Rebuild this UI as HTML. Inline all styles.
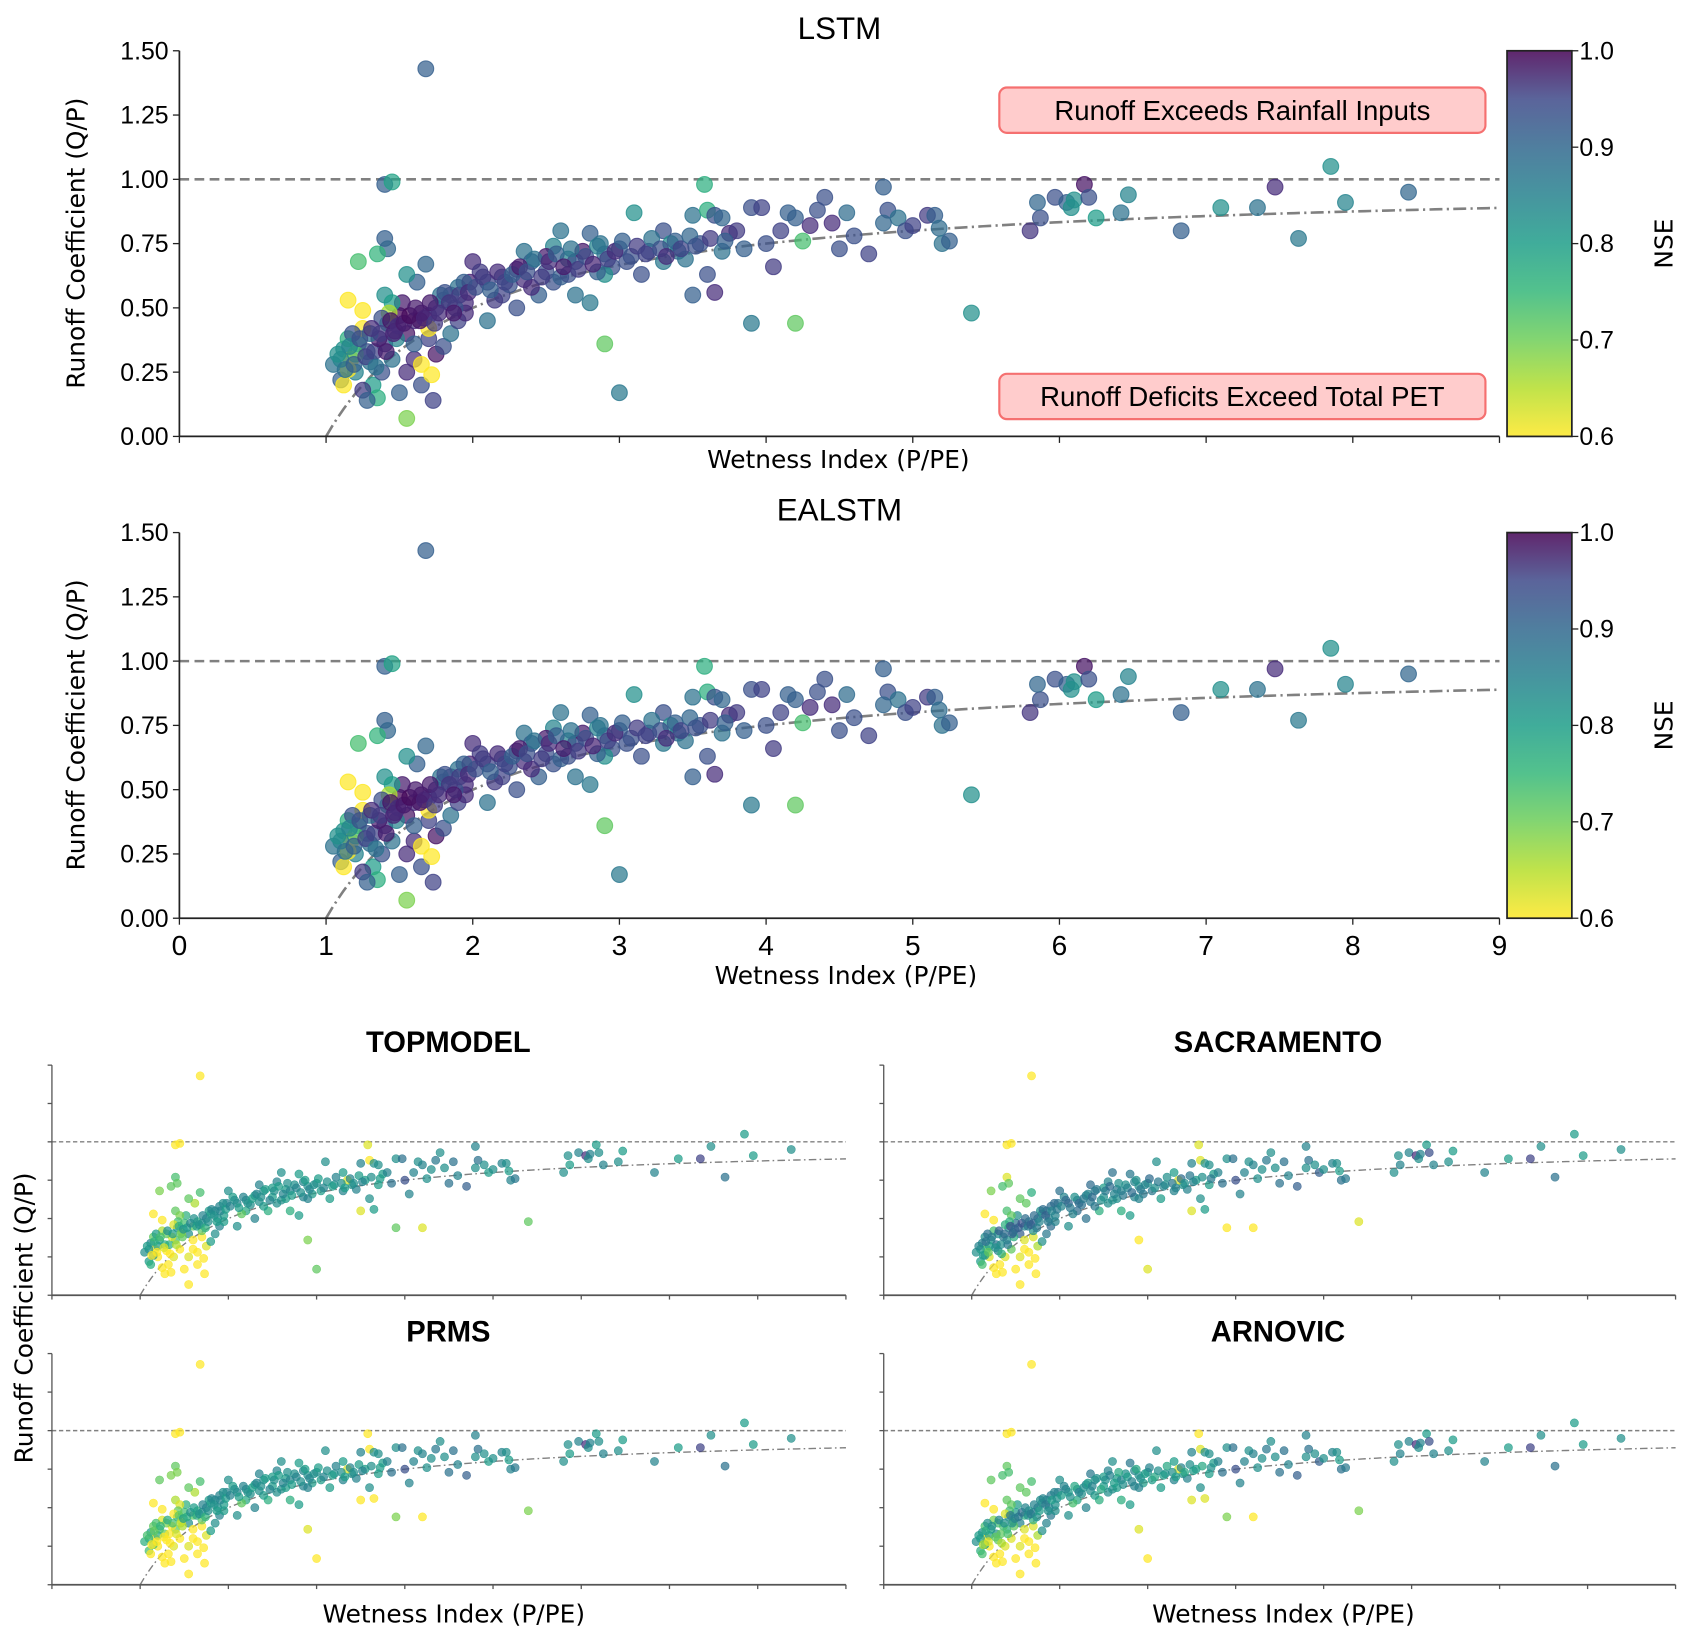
<!DOCTYPE html>
<html><head><meta charset="utf-8">
<style>
html,body{margin:0;padding:0;background:#fff;}
svg{display:block;font-family:"Liberation Sans","DejaVu Sans",sans-serif;}
</style></head>
<body>
<svg id="fig" width="1694" height="1642" viewBox="0 0 1568 1520" xmlns="http://www.w3.org/2000/svg">
<defs>
<linearGradient id="vir" x1="0" y1="1" x2="0" y2="0">
<stop offset="0" stop-color="#fde725"/><stop offset="0.125" stop-color="#b5de2b"/><stop offset="0.25" stop-color="#6ece58"/><stop offset="0.375" stop-color="#35b779"/><stop offset="0.5" stop-color="#1f9e89"/><stop offset="0.625" stop-color="#26828e"/><stop offset="0.75" stop-color="#31688e"/><stop offset="0.875" stop-color="#3e4989"/><stop offset="1" stop-color="#440154"/>
</linearGradient>
</defs>
</svg>
<script>
// ---- data (Wetness Index x, Runoff Coefficient y, NSE per model) ----
const wetness = [
1.68,1.40,1.45,3.58,7.85,1.40,1.42,1.22,1.35,1.15,1.25,2.9,3.0,1.55,3.9,4.2,5.4,1.73,
4.8,4.83,4.9,4.95,5.0,5.1,5.15,5.18,5.2,5.25,4.5,4.7,4.8,4.6,5.8,5.87,5.85,5.97,6.05,6.08,6.1,6.17,6.2,6.25,6.42,6.47,6.83,7.1,7.35,7.47,7.63,7.95,8.38,
3.1,3.3,3.5,3.6,3.65,3.7,3.75,3.8,3.9,3.97,4.15,4.2,4.25,4.35,4.4,4.45,4.55,4.0,4.05,3.5,3.6,3.65,3.4,3.45,3.55,3.2,3.3,3.15,3.0,3.35,3.85,4.1,4.3,3.7,
2.0,2.05,2.1,2.2,2.3,2.35,2.4,2.5,2.55,2.6,2.65,2.7,2.75,2.8,2.85,2.9,2.95,2.45,2.55,2.8,2.7,2.3,2.1,2.2,2.4,2.6,2.9,3.05,2.15,2.25,2.5,2.85,2.35,2.65,
1.5,1.55,1.6,1.65,1.7,1.75,1.8,1.85,1.9,1.95,1.62,1.68,1.55,1.7,1.75,1.8,1.85,1.9,1.95,1.6,1.65,1.5,1.55,1.7,1.78,1.88,1.98,1.52,1.6,1.65,1.72,
1.05,1.1,1.12,1.15,1.17,1.2,1.22,1.25,1.28,1.3,1.32,1.35,1.38,1.4,1.42,1.45,1.48,1.12,1.18,1.25,1.28,1.33,1.36,1.4,1.45,1.43,1.47,1.2,1.3,1.38,1.15,1.1,
1.08,1.13,1.16,1.19,1.23,1.27,1.31,1.34,1.37,1.41,1.44,1.46,1.49,1.53,1.57,1.61,1.64,1.67,1.71,1.74,1.77,1.81,1.84,1.87,1.91,1.94,1.97,2.02,2.07,2.12,2.17,2.22,2.27,2.32,2.37,2.42,2.47,2.52,2.57,2.62,2.67,2.72,2.77,2.82,2.87,2.92,2.97,3.02,3.08,3.12,3.18,3.22,3.28,3.32,3.38,3.42,3.48,3.52,3.62,3.72
];
const runoff = [
1.43,0.98,0.99,0.98,1.05,0.77,0.73,0.68,0.71,0.53,0.49,0.36,0.17,0.07,0.44,0.44,0.48,0.14,
0.97,0.88,0.85,0.80,0.82,0.86,0.86,0.81,0.75,0.76,0.73,0.71,0.83,0.78,0.80,0.85,0.91,0.93,0.91,0.89,0.92,0.98,0.93,0.85,0.87,0.94,0.80,0.89,0.89,0.97,0.77,0.91,0.95,
0.87,0.80,0.86,0.88,0.86,0.85,0.79,0.80,0.89,0.89,0.87,0.85,0.76,0.88,0.93,0.83,0.87,0.75,0.66,0.55,0.63,0.56,0.72,0.69,0.75,0.72,0.68,0.63,0.73,0.75,0.73,0.80,0.82,0.72,
0.68,0.64,0.60,0.62,0.65,0.72,0.68,0.64,0.74,0.80,0.69,0.68,0.72,0.79,0.74,0.71,0.66,0.55,0.60,0.52,0.55,0.50,0.45,0.55,0.58,0.62,0.63,0.68,0.53,0.59,0.70,0.64,0.61,0.63,
0.47,0.40,0.45,0.48,0.47,0.50,0.53,0.55,0.58,0.52,0.60,0.67,0.63,0.38,0.32,0.35,0.40,0.45,0.48,0.30,0.20,0.17,0.25,0.42,0.55,0.50,0.60,0.52,0.36,0.28,0.24,
0.28,0.22,0.34,0.38,0.30,0.25,0.36,0.42,0.33,0.29,0.20,0.15,0.25,0.36,0.44,0.30,0.38,0.20,0.40,0.18,0.14,0.33,0.38,0.55,0.52,0.48,0.41,0.32,0.40,0.46,0.26,0.30,
0.32,0.26,0.35,0.28,0.38,0.31,0.42,0.27,0.40,0.33,0.45,0.40,0.43,0.44,0.47,0.50,0.45,0.46,0.52,0.44,0.48,0.56,0.52,0.48,0.55,0.60,0.56,0.58,0.62,0.57,0.64,0.60,0.63,0.66,0.64,0.69,0.62,0.68,0.71,0.66,0.73,0.65,0.70,0.67,0.75,0.69,0.72,0.76,0.70,0.74,0.71,0.77,0.73,0.70,0.76,0.73,0.78,0.74,0.77,0.76
];
const lstmNse = [
.88,.88,.77,.75,.8,.88,.87,.72,.74,.6,.6,.7,.84,.68,.84,.7,.8,.92,
.88,.9,.85,.9,.92,.93,.88,.86,.85,.88,.9,.92,.87,.9,.94,.9,.87,.9,.88,.8,.8,.98,.9,.78,.85,.82,.88,.8,.85,.95,.84,.82,.87,
.8,.9,.85,.75,.9,.87,.95,.93,.9,.92,.88,.88,.72,.9,.9,.95,.86,.9,.93,.88,.9,.95,.86,.85,.9,.92,.84,.9,.88,.8,.88,.92,.95,.85,
.95,.93,.92,.9,.95,.85,.88,.9,.82,.85,.82,.9,.97,.88,.82,.85,.9,.88,.9,.84,.85,.9,.85,.92,.95,.88,.8,.9,.93,.9,.97,.88,.95,.9,
1,.98,.95,.97,.95,.92,.88,.9,.85,.95,.88,.87,.8,.92,.98,.9,.85,.92,.95,.95,.9,.88,.95,.6,.85,.9,.96,.97,.88,.6,.6,
.85,.88,.8,.75,.6,.82,.77,.6,.9,.85,.78,.75,.9,.92,.78,.85,.82,.6,.9,.93,.88,.92,.97,.8,.78,.65,.95,.72,.85,.9,.6,.82,
.8,.85,.82,.88,.9,.92,.95,.85,.93,.97,.98,.96,.95,.97,.99,.97,.98,.96,.97,.93,.95,.9,.94,.97,.93,.88,.95,.9,.93,.88,.95,.92,.88,.97,.9,.85,.93,.95,.88,.97,.85,.93,.9,.96,.85,.92,.95,.88,.9,.93,.92,.85,.9,.95,.88,.92,.87,.9,.93,.88
];
const ealstmNse = [
.88,.88,.77,.75,.8,.88,.87,.72,.74,.6,.6,.7,.84,.68,.84,.7,.8,.92,
.88,.9,.85,.9,.92,.93,.88,.86,.85,.88,.9,.92,.87,.9,.94,.9,.87,.9,.88,.8,.8,.98,.9,.78,.85,.82,.88,.8,.85,.95,.84,.82,.87,
.8,.9,.85,.75,.9,.87,.95,.93,.9,.92,.88,.88,.72,.9,.9,.95,.86,.9,.93,.88,.9,.95,.86,.85,.9,.92,.84,.9,.88,.8,.88,.92,.95,.85,
.95,.93,.92,.9,.95,.85,.88,.9,.82,.85,.82,.9,.97,.88,.82,.85,.9,.88,.9,.84,.85,.9,.85,.92,.95,.88,.8,.9,.93,.9,.97,.88,.95,.9,
1,.98,.95,.97,.95,.92,.88,.9,.85,.95,.88,.87,.8,.92,.98,.9,.85,.92,.95,.95,.9,.88,.95,.6,.85,.9,.96,.97,.88,.6,.6,
.85,.88,.8,.75,.6,.82,.77,.6,.9,.85,.78,.75,.9,.92,.78,.85,.82,.6,.9,.93,.88,.92,.97,.8,.78,.65,.95,.72,.85,.9,.6,.82,
.8,.85,.82,.88,.9,.92,.95,.85,.93,.97,.98,.96,.95,.97,.99,.97,.98,.96,.97,.93,.95,.9,.94,.97,.93,.88,.95,.9,.93,.88,.95,.92,.88,.97,.9,.85,.93,.95,.88,.97,.85,.93,.9,.96,.85,.92,.95,.88,.9,.93,.92,.85,.9,.95,.88,.92,.87,.9,.93,.88
];
const topmodelNse = [
.6,.6,.6,.62,.78,.72,.7,.68,.7,.6,.6,.68,.7,.6,.7,.62,.7,.6,
.82,.85,.8,.78,.8,.82,.8,.78,.82,.84,.85,.88,.8,.82,.8,.78,.8,.82,.95,.8,.82,.78,.8,.82,.8,.78,.82,.78,.92,.8,.85,.78,.8,
.8,.78,.82,.6,.8,.8,.78,.82,.8,.85,.8,.82,.8,.84,.8,.8,.85,.9,.82,.62,.8,.78,.8,.82,.78,.8,.82,.78,.8,.62,.85,.82,.8,.78,
.8,.78,.82,.8,.78,.82,.8,.78,.82,.8,.78,.82,.8,.78,.82,.8,.78,.75,.8,.78,.75,.82,.8,.76,.78,.8,.82,.78,.7,.8,.78,.82,.8,.78,
.72,.8,.7,.75,.8,.82,.78,.8,.82,.78,.65,.72,.7,.6,.62,.78,.8,.82,.78,.6,.6,.6,.62,.7,.78,.8,.82,.75,.6,.6,.6,
.8,.78,.82,.7,.6,.6,.78,.65,.75,.6,.6,.6,.62,.72,.8,.6,.7,.75,.78,.6,.6,.75,.62,.7,.68,.72,.65,.78,.7,.62,.8,.8,
.78,.6,.75,.6,.72,.62,.8,.6,.78,.65,.75,.7,.8,.78,.82,.8,.78,.8,.82,.75,.8,.82,.8,.78,.82,.8,.78,.82,.8,.78,.82,.8,.78,.82,.8,.78,.82,.8,.78,.82,.8,.78,.82,.8,.78,.82,.8,.78,.82,.8,.78,.82,.8,.78,.82,.8,.78,.82,.8,.78
];
const sacramentoNse = [
.6,.6,.6,.62,.78,.62,.7,.68,.72,.6,.6,.6,.62,.6,.6,.6,.62,.6,
.82,.85,.8,.88,.8,.82,.8,.78,.85,.84,.85,.88,.8,.82,.8,.82,.8,.82,.95,.8,.82,.78,.9,.82,.8,.78,.82,.78,.92,.8,.85,.78,.8,
.8,.78,.82,.62,.8,.8,.78,.82,.8,.85,.8,.82,.8,.84,.8,.8,.85,.9,.82,.62,.8,.78,.8,.82,.78,.8,.82,.78,.8,.62,.85,.82,.8,.78,
.85,.82,.88,.85,.82,.86,.84,.8,.82,.85,.84,.82,.8,.84,.82,.8,.84,.75,.8,.78,.75,.85,.8,.86,.84,.8,.82,.84,.82,.85,.78,.82,.84,.8,
.85,.88,.82,.84,.88,.85,.82,.84,.86,.82,.7,.75,.7,.62,.65,.8,.84,.86,.82,.6,.6,.6,.62,.8,.8,.82,.84,.8,.62,.6,.6,
.8,.78,.82,.8,.7,.62,.78,.72,.85,.82,.6,.6,.62,.8,.82,.7,.75,.72,.85,.6,.6,.8,.84,.72,.7,.75,.82,.78,.8,.75,.8,.78,
.82,.78,.85,.7,.84,.8,.88,.75,.86,.84,.9,.88,.86,.88,.9,.86,.84,.88,.86,.84,.82,.86,.88,.84,.82,.86,.84,.82,.86,.84,.8,.86,.84,.82,.86,.84,.8,.84,.86,.82,.8,.84,.82,.86,.8,.84,.82,.86,.8,.84,.82,.8,.84,.82,.86,.8,.84,.82,.8,.84
];
const prmsNse = [
.6,.6,.6,.6,.78,.7,.68,.7,.68,.6,.6,.62,.6,.6,.68,.6,.68,.6,
.82,.85,.8,.78,.8,.82,.8,.78,.82,.84,.85,.88,.8,.82,.8,.78,.8,.82,.95,.8,.82,.78,.8,.82,.8,.78,.82,.78,.92,.8,.85,.78,.8,
.8,.78,.82,.6,.8,.8,.78,.82,.8,.85,.8,.82,.8,.84,.8,.8,.85,.9,.82,.6,.8,.6,.8,.82,.78,.8,.82,.78,.8,.62,.85,.82,.8,.78,
.8,.78,.82,.8,.78,.82,.8,.78,.82,.8,.78,.82,.8,.78,.82,.8,.78,.75,.8,.78,.75,.82,.8,.76,.78,.8,.82,.78,.7,.8,.78,.82,.8,.78,
.72,.8,.7,.75,.8,.82,.78,.8,.82,.78,.65,.72,.7,.6,.62,.78,.8,.82,.78,.6,.6,.6,.62,.7,.78,.8,.82,.75,.6,.6,.6,
.75,.72,.78,.7,.6,.6,.72,.62,.7,.6,.6,.6,.62,.7,.75,.6,.65,.6,.72,.6,.6,.6,.6,.65,.62,.7,.6,.75,.68,.6,.72,.75,
.72,.6,.7,.6,.74,.6,.76,.6,.72,.62,.7,.65,.78,.75,.8,.78,.76,.8,.82,.74,.8,.82,.8,.78,.82,.8,.78,.82,.8,.78,.82,.8,.78,.82,.8,.78,.82,.8,.78,.82,.8,.78,.82,.8,.78,.82,.8,.78,.82,.8,.78,.82,.8,.78,.82,.8,.78,.82,.8,.78
];
const arnovicNse = [
.6,.6,.6,.6,.78,.7,.72,.7,.72,.6,.6,.62,.6,.6,.68,.6,.68,.6,
.82,.85,.8,.88,.8,.82,.8,.78,.85,.84,.85,.88,.8,.82,.8,.82,.8,.82,.95,.8,.82,.78,.9,.82,.8,.78,.82,.78,.92,.8,.85,.78,.8,
.8,.78,.82,.62,.8,.8,.78,.82,.8,.85,.8,.82,.8,.84,.8,.8,.85,.9,.82,.62,.8,.62,.8,.82,.78,.8,.82,.78,.8,.62,.85,.82,.8,.78,
.8,.82,.78,.8,.82,.84,.8,.78,.82,.8,.78,.82,.8,.84,.82,.8,.78,.75,.8,.78,.75,.82,.8,.76,.78,.8,.82,.78,.72,.8,.78,.82,.8,.78,
.78,.82,.75,.78,.82,.85,.8,.82,.84,.8,.7,.72,.7,.62,.65,.8,.82,.84,.8,.6,.6,.6,.62,.75,.8,.82,.84,.78,.62,.6,.6,
.8,.75,.8,.72,.6,.6,.75,.68,.8,.7,.6,.6,.62,.75,.8,.62,.7,.72,.8,.6,.6,.7,.72,.7,.7,.72,.7,.78,.72,.62,.78,.78,
.78,.65,.76,.62,.8,.7,.82,.65,.8,.72,.84,.8,.82,.84,.86,.82,.8,.84,.82,.8,.78,.82,.84,.8,.78,.82,.8,.78,.82,.8,.76,.82,.8,.78,.82,.8,.76,.8,.82,.78,.76,.8,.78,.82,.76,.8,.78,.82,.76,.8,.78,.76,.8,.78,.82,.76,.8,.78,.76,.8
];
const xTicks = [0,1,2,3,4,5,6,7,8,9];
const xTickLabels = ["0","1","2","3","4","5","6","7","8","9"];
const yTicks = [0,0.25,0.5,0.75,1.0,1.25,1.5];
const yTickLabels = ["0.00","0.25","0.50","0.75","1.00","1.25","1.50"];
const cbTicks = [0.6,0.7,0.8,0.9,1.0];
const cbTickLabels = ["0.6","0.7","0.8","0.9","1.0"];

// ---- helpers ----
const NS="http://www.w3.org/2000/svg";
const svg=document.getElementById('fig');
function el(tag,attrs,parent,text){const e=document.createElementNS(NS,tag);for(const k in attrs)e.setAttribute(k,attrs[k]);if(text!==undefined)e.textContent=text;(parent||svg).appendChild(e);return e;}
const VIR=[[253,231,37],[181,222,43],[110,206,88],[53,183,121],[31,158,137],[38,130,142],[49,104,142],[62,73,137],[72,40,120],[68,1,84]];
function viridisR(nse){let t=(nse-0.6)/0.4;t=Math.max(0,Math.min(1,t));const p=t*(VIR.length-1);const i=Math.min(VIR.length-2,Math.floor(p));const f=p-i;const c=VIR[i].map((v,k)=>Math.round(v+(VIR[i+1][k]-v)*f));return `rgb(${c[0]},${c[1]},${c[2]})`;}

function panel(o){
  const g=el('g',{});
  
  
  const sx=v=>o.x0+(o.x1-o.x0)*v/9;
  const sy=v=>o.yb-(o.yb-o.yt)*v/1.5;
  const dl=el('line',{x1:o.x0,x2:o.x1,y1:sy(1),y2:sy(1),stroke:'#808080','stroke-width':o.big?2.4:1.3,'stroke-dasharray':o.big?'9,5':'4,2.5'},g);
  
  
  let d='';for(let i=0;i<=200;i++){const x=1+8*i/200;d+=(i?'L':'M')+sx(x).toFixed(2)+','+sy(1-1/x).toFixed(2);}
  const cv=el('path',{d:d,fill:'none',stroke:'#808080','stroke-width':o.big?2.4:1.3,'stroke-dasharray':o.big?'12,4,2,4':'7,3,1.5,3'},g);
  
  
  const pg=el('g',{},g);
  
  
  for(let i=0;i<wetness.length;i++){
    const c=el('circle',{cx:sx(wetness[i]),cy:sy(runoff[i]),r:o.r,fill:viridisR(o.nse[i]),'fill-opacity':0.72,stroke:viridisR(o.nse[i]),'stroke-opacity':0.8,'stroke-width':o.big?1:0.5},pg);
    
    
  }
  const sc=o.big?'#222':'#555';
  const sl=el('line',{x1:o.x0,x2:o.x0,y1:o.yt,y2:o.yb,stroke:sc,'stroke-width':o.big?1.6:1.2},g);
  
  
  const sb=el('line',{x1:o.x0,x2:o.x1,y1:o.yb,y2:o.yb,stroke:sc,'stroke-width':1.6},g);
  
  
  xTicks.forEach((v,i)=>{
    el('line',{x1:sx(v),x2:sx(v),y1:o.yb,y2:o.yb+(o.big?6:4),stroke:sc,'stroke-width':1.2},g);
    if(o.xlabels){const t=el('text',{x:sx(v),y:o.yb+34,'font-size':26,'text-anchor':'middle'},g,xTickLabels[i]);
      
      }
  });
  yTicks.forEach((v,i)=>{
    el('line',{x1:o.x0-(o.big?6:4),x2:o.x0,y1:sy(v),y2:sy(v),stroke:sc,'stroke-width':1.2},g);
    if(o.big){const t=el('text',{x:o.x0-10,y:sy(v)+8,'font-size':23,'text-anchor':'end'},g,yTickLabels[i]);
      
      }
  });
  const ti=el('text',{x:o.tx,y:o.ty,'font-size':o.big?29:27,'font-weight':o.big?'normal':'bold','text-anchor':'middle'},g,o.title);
  
  
  return g;
}
function colorbar(x,yt,yb){
  const g=el('g',{});
  
  
  el('rect',{x:x,y:yt,width:60,height:yb-yt,fill:'url(#vir)','fill-opacity':0.85,stroke:'#222','stroke-width':1.6},g);
  cbTicks.forEach((v,i)=>{const y=yb-(yb-yt)*(v-0.6)/0.4;
    el('line',{x1:x+60,x2:x+66,y1:y,y2:y,stroke:'#222','stroke-width':1.2},g);
    const t=el('text',{x:x+67,y:y+8,'font-size':23},g,cbTickLabels[i]);
    
    });
  const lab=el('text',{x:0,y:0,'font-size':23,'text-anchor':'middle',transform:`translate(1548,${(yt+yb)/2}) rotate(-90)`,'font-family':'"DejaVu Sans",sans-serif'},g,'NSE');
  
  
}
function label(txt,x,y,rot,name,size){
  const t=el('text',{x:0,y:0,'font-size':size||23,'text-anchor':'middle','font-family':'"DejaVu Sans",sans-serif',transform:`translate(${x},${y})`+(rot?' rotate(-90)':'')},svg,txt);
  
  
}
function annot(txt,y,name){
  const g=el('g',{});
  
  
  el('rect',{x:925,y:y,width:450,height:42,rx:7,fill:'#ffcccc',stroke:'#f57070','stroke-width':2},g);
  el('text',{x:1150,y:y+30,'font-size':25.5,'text-anchor':'middle'},g,txt);
}

panel({name:'lstm-panel',title:'LSTM',x0:166,x1:1388,yt:47,yb:404,r:7.3,big:true,nse:lstmNse,tx:777,ty:36,xlabels:false});
panel({name:'ealstm-panel',title:'EALSTM',x0:166,x1:1388,yt:493,yb:850,r:7.3,big:true,nse:ealstmNse,tx:777,ty:482,xlabels:true});
colorbar(1395,47,404);
colorbar(1395,493,850);
annot('Runoff Exceeds Rainfall Inputs',81,'annotation-exceeds-rainfall');
annot('Runoff Deficits Exceed Total PET',346,'annotation-deficits-exceed-pet');
label('Runoff Coefficient (Q/P)',78,225,true,'y-axis-title-lstm');
label('Runoff Coefficient (Q/P)',78,671,true,'y-axis-title-ealstm');
label('Wetness Index (P/PE)',776,433,false,'x-axis-title-lstm');
label('Wetness Index (P/PE)',783,911,false,'x-axis-title-ealstm');

panel({name:'topmodel-panel',title:'TOPMODEL',x0:48,x1:783,yt:986,yb:1199,r:3.8,big:false,nse:topmodelNse,tx:415,ty:974});
panel({name:'sacramento-panel',title:'SACRAMENTO',x0:818,x1:1551,yt:986,yb:1199,r:3.8,big:false,nse:sacramentoNse,tx:1183,ty:974});
panel({name:'prms-panel',title:'PRMS',x0:48,x1:783,yt:1253,yb:1467,r:3.8,big:false,nse:prmsNse,tx:415,ty:1242});
panel({name:'arnovic-panel',title:'ARNOVIC',x0:818,x1:1551,yt:1253,yb:1467,r:3.8,big:false,nse:arnovicNse,tx:1183,ty:1242});
label('Runoff Coefficient (Q/P)',30,1220,true,'y-axis-title-models');
label('Wetness Index (P/PE)',420,1502,false,'x-axis-title-left');
label('Wetness Index (P/PE)',1188,1502,false,'x-axis-title-right');
</script>
</body></html>
